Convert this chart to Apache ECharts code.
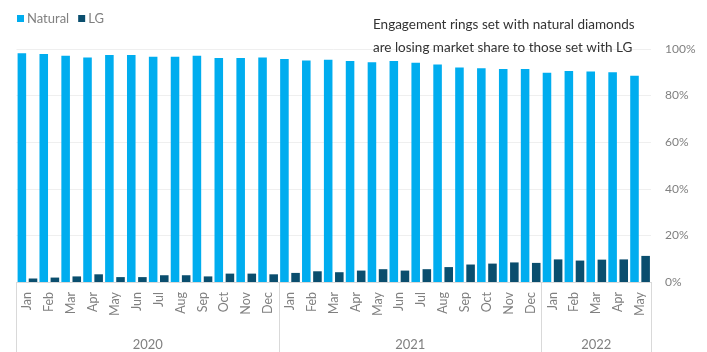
<!DOCTYPE html>
<html>
<head>
<meta charset="utf-8">
<script src="https://cdn.jsdelivr.net/npm/echarts@6/dist/echarts.min.js"></script>
<style>
  html, body { margin: 0; padding: 0; background: #fff; }
  #chart { width: 707px; height: 352px; }
</style>
</head>
<body>
<div id="chart"></div>
<script>
// Monthly engagement-ring share by diamond type, Jan 2020 – May 2022
const months = ['Jan','Feb','Mar','Apr','May','Jun','Jul','Aug','Sep','Oct','Nov','Dec',
                'Jan','Feb','Mar','Apr','May','Jun','Jul','Aug','Sep','Oct','Nov','Dec',
                'Jan','Feb','Mar','Apr','May'];
const years = ['2020', '2021', '2022'];
const yearSpans = [12, 12, 5];   // months per year group

const natural = [98.2, 97.9, 97.1, 96.4, 97.4, 97.4, 96.7, 96.7, 97.1, 96.1, 96.1, 96.4,
                 95.7, 95.1, 95.4, 94.8, 94.3, 94.8, 94.1, 93.4, 92.1, 91.7, 91.4, 91.4,
                 89.8, 90.6, 90.3, 90.0, 88.5];
const labGrown = [1.5, 1.9, 2.4, 3.3, 2.1, 2.1, 2.9, 2.9, 2.4, 3.6, 3.6, 3.3,
                  3.9, 4.6, 4.2, 4.9, 5.5, 4.9, 5.5, 6.4, 7.5, 7.9, 8.4, 8.2,
                  9.7, 9.2, 9.6, 9.7, 11.2];
const yTicks = [0, 20, 40, 60, 80, 100];

// Year group boundaries and label centres on a 0..N month scale
const bounds = [0];
yearSpans.forEach(s => bounds.push(bounds[bounds.length - 1] + s));
const centres = yearSpans.map((s, i) => bounds[i] + s / 2);

const FONT = 'Lato, "Open Sans", sans-serif';
const GREY = '#808080';
const LINE = '#d9d9d9';

const chart = echarts.init(document.getElementById('chart'), null, { renderer: 'canvas' });
chart.setOption({
  animation: false,
  backgroundColor: '#ffffff',
  title: {
    text: 'Engagement rings set with natural diamonds\nare losing market share to those set with LG',
    left: 368,
    top: 8,
    textStyle: { fontFamily: FONT, fontSize: 13.5, fontWeight: 'normal', color: '#333333', lineHeight: 23 }
  },
  legend: {
    left: 12,
    top: 7,
    itemWidth: 7,
    itemHeight: 7,
    itemGap: 9,
    icon: 'rect',
    textStyle: { fontFamily: FONT, fontSize: 13, color: GREY, padding: [0, 0, 0, -2] },
    data: ['Natural', 'LG']
  },
  grid: { left: 16.5, right: 56, top: 49, bottom: 70 },
  xAxis: [
    {
      type: 'category',
      data: months,
      boundaryGap: true,
      axisLine: { show: true, lineStyle: { color: LINE, width: 1 } },
      axisTick: { show: false },
      axisLabel: { rotate: 90, interval: 0, margin: 10, fontFamily: FONT, fontSize: 12.5, color: GREY }
    },
    {
      type: 'value',
      min: 0,
      max: months.length,
      position: 'bottom',
      axisLine: { show: false },
      splitLine: { show: false },
      axisTick: {
        show: true, inside: false, length: 72, customValues: bounds,
        lineStyle: { color: LINE, width: 1 }
      },
      axisLabel: {
        show: true, margin: 56, customValues: centres,
        fontFamily: FONT, fontSize: 13, color: GREY,
        formatter: v => years[centres.indexOf(v)]
      }
    }
  ],
  yAxis: {
    type: 'value',
    position: 'right',
    min: 0,
    max: 100,
    interval: 20,
    axisLine: { show: false },
    axisTick: { show: false },
    splitLine: { lineStyle: { color: '#efefef', width: 1 } },
    axisLabel: {
      margin: 14, fontFamily: FONT, fontSize: 12, color: GREY,
      formatter: v => yTicks.includes(v) ? v + '%' : ''
    }
  },
  series: [
    {
      name: 'Natural',
      type: 'bar',
      data: natural,
      xAxisIndex: 0,
      barCategoryGap: '10%',
      barGap: '30%',
      itemStyle: { color: '#00adef' }
    },
    {
      name: 'LG',
      type: 'bar',
      data: labGrown,
      xAxisIndex: 0,
      itemStyle: { color: '#0a4e6e' }
    }
  ]
});
</script>
</body>
</html>
